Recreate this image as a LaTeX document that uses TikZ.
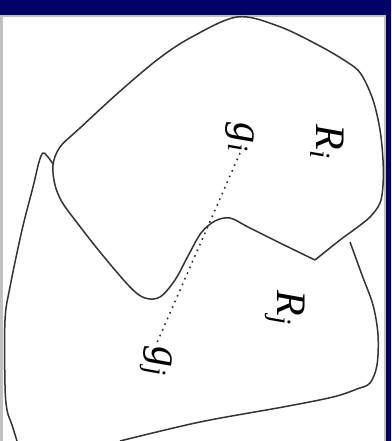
\RequirePackage{fix-cm}
\documentclass[tikz,border=0pt]{standalone}
\usepackage{fontspec}
\setmainfont{Liberation Serif}
\usetikzlibrary{positioning}
\definecolor{slidenavy}{RGB}{0,0,102}
\definecolor{slidegray}{RGB}{192,192,192}

\begin{document}
\begin{tikzpicture}[x=1pt,y=-1pt,
  region/.style={line width=1.5pt, draw=black!80, line join=round},
  lbl/.style={rotate=-90, inner sep=1pt, font=\fontsize{42}{50}\selectfont\itshape},
  link/.style={line width=1.5pt, draw=black!85, dash pattern=on 1.6pt off 4.6pt}]
  \useasboundingbox (0,0) rectangle (391,441);
  \fill[slidenavy] (0,0) rectangle (391,441);
  \fill[slidegray] (0,15) rectangle (386,441);
  \fill[white] (3,17) rectangle (384,441);

  % region R_i
  \draw[region] plot[smooth, tension=0.55] coordinates {
    (315,260) (340,240) (355,229) (370,217) (380,203) (383,185) (383,160)
    (380,130) (373,100) (361,74) (347,62) (318,45) (278,26) (237,17)
    (190,38) (157,60) (118,93) (80,128) (60,147) (53,165)
    (55,185) (62,202) (75,220) (100,252) (130,287) (145,298) (160,297)
    (175,280) (188,256) (201,233) (215,221) (230,218) (248,227) (280,243)
    (315,260)};
  % region R_j
  \draw[region] plot[smooth, tension=0.55] coordinates {
    (17,441) (12,425) (7,410) (5,385) (5,320) (10,287) (22,230) (33,187)
    (39,162) (43,153) (48,157) (53,164)};
  \draw[region] plot[smooth, tension=0.55] coordinates {
    (350,242) (362,275) (373,305) (378,335) (377,365) (370,383) (357,389)
    (333,397) (283,407) (200,422) (120,441)};

  \node[lbl] (Ri) at (327,142) {R\textsubscript{i}};
  \node[lbl] (Rj) at (285,308) {R\textsubscript{j}};
  \node[lbl] (gi) at (240,137) {g\textsubscript{i}};
  \node[lbl] (gj) at (156,361) {g\textsubscript{j}};
  \draw[link] (gi.east) -- (gj.west);
\end{tikzpicture}
\end{document}
